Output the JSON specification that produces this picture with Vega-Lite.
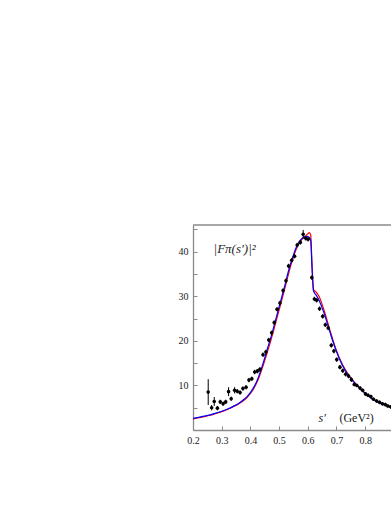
{
  "$schema": "https://vega.github.io/schema/vega-lite/v6.json",
  "autosize": {"type": "none"},
  "padding": {"left": 193, "top": 225, "right": 0, "bottom": 76},
  "width": 198,
  "height": 205,
  "background": "white",
  "config": {
    "view": {"stroke": null},
    "font": "Liberation Serif",
    "axis": {
      "grid": false,
      "domainColor": "#8a8a8a",
      "domainWidth": 1.3,
      "tickColor": "#8a8a8a",
      "tickWidth": 1,
      "labelFont": "Liberation Serif",
      "labelFontSize": 10,
      "labelColor": "#222",
      "labelOverlap": false,
      "title": null
    }
  },
  "datasets": {
    "pts": [
      {"x": 0.253, "y": 8.5, "lo": 5.6, "hi": 11.4},
      {"x": 0.265, "y": 5.0, "lo": 4.4, "hi": 5.6},
      {"x": 0.274, "y": 6.4, "lo": 5.4, "hi": 7.4},
      {"x": 0.285, "y": 4.9, "lo": 4.4, "hi": 5.4},
      {"x": 0.295, "y": 6.3, "lo": 5.8, "hi": 6.8},
      {"x": 0.305, "y": 5.9, "lo": 5.4, "hi": 6.4},
      {"x": 0.314, "y": 6.3, "lo": 5.8, "hi": 6.8},
      {"x": 0.324, "y": 8.6, "lo": 7.6, "hi": 9.6},
      {"x": 0.333, "y": 7.0, "lo": 6.5, "hi": 7.5},
      {"x": 0.345, "y": 8.9, "lo": 8.2, "hi": 9.6},
      {"x": 0.354, "y": 8.7, "lo": 8.2, "hi": 9.2},
      {"x": 0.364, "y": 8.4, "lo": 7.9, "hi": 8.9},
      {"x": 0.374, "y": 9.3, "lo": 8.8, "hi": 9.8},
      {"x": 0.385, "y": 9.6, "lo": 9.1, "hi": 10.1},
      {"x": 0.395, "y": 11.2, "lo": 10.7, "hi": 11.7},
      {"x": 0.405, "y": 11.5, "lo": 11.0, "hi": 12.0},
      {"x": 0.415, "y": 13.0, "lo": 12.5, "hi": 13.5},
      {"x": 0.424, "y": 13.2, "lo": 12.7, "hi": 13.7},
      {"x": 0.433, "y": 13.6, "lo": 13.1, "hi": 14.1},
      {"x": 0.444, "y": 16.9, "lo": 16.4, "hi": 17.4},
      {"x": 0.454, "y": 17.5, "lo": 17.0, "hi": 18.0},
      {"x": 0.464, "y": 20.2, "lo": 19.7, "hi": 20.7},
      {"x": 0.474, "y": 21.8, "lo": 21.3, "hi": 22.3},
      {"x": 0.483, "y": 24.1, "lo": 23.6, "hi": 24.6},
      {"x": 0.493, "y": 27.1, "lo": 26.6, "hi": 27.6},
      {"x": 0.503, "y": 28.5, "lo": 28.0, "hi": 29.0},
      {"x": 0.514, "y": 31.3, "lo": 30.8, "hi": 31.8},
      {"x": 0.524, "y": 33.5, "lo": 33.0, "hi": 34.0},
      {"x": 0.533, "y": 36.8, "lo": 36.3, "hi": 37.3},
      {"x": 0.544, "y": 38.1, "lo": 37.6, "hi": 38.6},
      {"x": 0.554, "y": 39.0, "lo": 38.5, "hi": 39.5},
      {"x": 0.563, "y": 41.5, "lo": 41.0, "hi": 42.0},
      {"x": 0.574, "y": 42.1, "lo": 41.6, "hi": 42.6},
      {"x": 0.584, "y": 43.9, "lo": 43.0, "hi": 44.9},
      {"x": 0.593, "y": 43.0, "lo": 42.5, "hi": 43.5},
      {"x": 0.601, "y": 42.8, "lo": 42.3, "hi": 43.3},
      {"x": 0.614, "y": 34.2, "lo": 33.7, "hi": 34.7},
      {"x": 0.623, "y": 29.4, "lo": 28.9, "hi": 29.9},
      {"x": 0.631, "y": 29.1, "lo": 28.6, "hi": 29.6},
      {"x": 0.641, "y": 27.2, "lo": 26.7, "hi": 27.7},
      {"x": 0.652, "y": 25.5, "lo": 25.0, "hi": 26.0},
      {"x": 0.661, "y": 23.6, "lo": 23.1, "hi": 24.1},
      {"x": 0.671, "y": 22.9, "lo": 22.4, "hi": 23.4},
      {"x": 0.682, "y": 19.0, "lo": 18.5, "hi": 19.5},
      {"x": 0.691, "y": 17.7, "lo": 17.2, "hi": 18.2},
      {"x": 0.701, "y": 15.8, "lo": 15.3, "hi": 16.3},
      {"x": 0.712, "y": 14.1, "lo": 13.6, "hi": 14.6},
      {"x": 0.722, "y": 13.3, "lo": 12.8, "hi": 13.8},
      {"x": 0.732, "y": 12.5, "lo": 12.0, "hi": 13.0},
      {"x": 0.742, "y": 12.1, "lo": 11.6, "hi": 12.6},
      {"x": 0.752, "y": 11.3, "lo": 10.8, "hi": 11.8},
      {"x": 0.762, "y": 10.2, "lo": 9.8, "hi": 10.6},
      {"x": 0.771, "y": 10.0, "lo": 9.6, "hi": 10.4},
      {"x": 0.782, "y": 9.4, "lo": 9.0, "hi": 9.8},
      {"x": 0.791, "y": 8.9, "lo": 8.5, "hi": 9.3},
      {"x": 0.801, "y": 8.1, "lo": 7.7, "hi": 8.5},
      {"x": 0.81, "y": 7.8, "lo": 7.4, "hi": 8.2},
      {"x": 0.82, "y": 7.5, "lo": 7.1, "hi": 7.9},
      {"x": 0.829, "y": 6.9, "lo": 6.5, "hi": 7.3},
      {"x": 0.84, "y": 6.5, "lo": 6.1, "hi": 6.9},
      {"x": 0.85, "y": 6.2, "lo": 5.8, "hi": 6.6},
      {"x": 0.86, "y": 5.9, "lo": 5.5, "hi": 6.3},
      {"x": 0.87, "y": 5.7, "lo": 5.3, "hi": 6.1},
      {"x": 0.879, "y": 5.4, "lo": 5.0, "hi": 5.8},
      {"x": 0.889, "y": 5.2, "lo": 4.8, "hi": 5.6}
    ],
    "red": [
      {"x": 0.2, "y": 2.5}, {"x": 0.22, "y": 2.75}, {"x": 0.24, "y": 3.0}, {"x": 0.26, "y": 3.3},
      {"x": 0.28, "y": 3.7}, {"x": 0.3, "y": 4.1}, {"x": 0.32, "y": 4.6}, {"x": 0.34, "y": 5.2},
      {"x": 0.36, "y": 5.9}, {"x": 0.38, "y": 6.8}, {"x": 0.39, "y": 7.4}, {"x": 0.4, "y": 8.2},
      {"x": 0.41, "y": 9.1}, {"x": 0.42, "y": 10.3}, {"x": 0.43, "y": 11.8}, {"x": 0.44, "y": 13.6},
      {"x": 0.45, "y": 15.6},
      {"x": 0.46, "y": 17.7}, {"x": 0.47, "y": 19.8}, {"x": 0.48, "y": 22.1}, {"x": 0.49, "y": 24.5},
      {"x": 0.5, "y": 26.9}, {"x": 0.51, "y": 29.3}, {"x": 0.52, "y": 31.8}, {"x": 0.53, "y": 34.3},
      {"x": 0.54, "y": 36.7}, {"x": 0.55, "y": 38.8}, {"x": 0.56, "y": 40.6}, {"x": 0.57, "y": 41.9},
      {"x": 0.58, "y": 42.8}, {"x": 0.59, "y": 43.4}, {"x": 0.6, "y": 44.0}, {"x": 0.605, "y": 44.3},
      {"x": 0.61, "y": 43.8}, {"x": 0.615, "y": 37.0}, {"x": 0.62, "y": 31.5}, {"x": 0.63, "y": 30.9},
      {"x": 0.64, "y": 29.9}, {"x": 0.65, "y": 28.2}, {"x": 0.66, "y": 26.2}, {"x": 0.67, "y": 24.0},
      {"x": 0.68, "y": 21.8}, {"x": 0.69, "y": 19.7}, {"x": 0.7, "y": 17.8}, {"x": 0.72, "y": 14.8},
      {"x": 0.74, "y": 12.6}, {"x": 0.76, "y": 10.9}, {"x": 0.78, "y": 9.5}, {"x": 0.8, "y": 8.3},
      {"x": 0.82, "y": 7.3}, {"x": 0.84, "y": 6.5}, {"x": 0.86, "y": 5.9}, {"x": 0.88, "y": 5.4},
      {"x": 0.9, "y": 5.0}
    ],
    "blue": [
      {"x": 0.2, "y": 2.6}, {"x": 0.22, "y": 2.85}, {"x": 0.24, "y": 3.1}, {"x": 0.26, "y": 3.4},
      {"x": 0.28, "y": 3.8}, {"x": 0.3, "y": 4.2}, {"x": 0.32, "y": 4.7}, {"x": 0.34, "y": 5.3},
      {"x": 0.36, "y": 6.0}, {"x": 0.38, "y": 7.0}, {"x": 0.39, "y": 7.6}, {"x": 0.4, "y": 8.4},
      {"x": 0.41, "y": 9.4}, {"x": 0.42, "y": 10.6}, {"x": 0.43, "y": 12.2}, {"x": 0.44, "y": 14.1},
      {"x": 0.45, "y": 16.2},
      {"x": 0.46, "y": 18.4}, {"x": 0.47, "y": 20.5}, {"x": 0.48, "y": 22.8}, {"x": 0.49, "y": 25.2},
      {"x": 0.5, "y": 27.6}, {"x": 0.51, "y": 30.0}, {"x": 0.52, "y": 32.4}, {"x": 0.53, "y": 35.0},
      {"x": 0.54, "y": 37.3}, {"x": 0.55, "y": 39.3}, {"x": 0.56, "y": 41.0}, {"x": 0.57, "y": 42.2},
      {"x": 0.58, "y": 43.0}, {"x": 0.59, "y": 43.4}, {"x": 0.6, "y": 43.4}, {"x": 0.605, "y": 43.2},
      {"x": 0.61, "y": 42.6}, {"x": 0.615, "y": 36.0}, {"x": 0.62, "y": 31.2}, {"x": 0.63, "y": 30.2},
      {"x": 0.64, "y": 29.0}, {"x": 0.65, "y": 27.4}, {"x": 0.66, "y": 25.6}, {"x": 0.67, "y": 23.5},
      {"x": 0.68, "y": 21.4}, {"x": 0.69, "y": 19.4}, {"x": 0.7, "y": 17.6}, {"x": 0.72, "y": 14.6},
      {"x": 0.74, "y": 12.4}, {"x": 0.76, "y": 10.8}, {"x": 0.78, "y": 9.4}, {"x": 0.8, "y": 8.2},
      {"x": 0.82, "y": 7.2}, {"x": 0.84, "y": 6.4}, {"x": 0.86, "y": 5.8}, {"x": 0.88, "y": 5.3},
      {"x": 0.9, "y": 4.9}
    ]
  },
  "encoding": {
    "x": {"type": "quantitative",
          "scale": {"domain": [0.2, 0.89], "nice": false, "zero": false},
          "axis": {"values": [0.2, 0.3, 0.4, 0.5, 0.6, 0.7, 0.8, 0.9], "format": ".1f",
                   "tickSize": -4, "labelPadding": 9, "labelOverlap": false, "labelBound": false, "labelFlush": false,
                   "labelFont": "Liberation Serif", "labelFontSize": 10}},
    "y": {"type": "quantitative",
          "scale": {"domain": [0, 46], "nice": false, "zero": true},
          "axis": {"values": [5, 10, 15, 20, 25, 30, 35, 40, 45],
                   "labelExpr": "datum.value % 10 == 0 ? datum.label : ''",
                   "tickSize": -4, "labelPadding": 9, "labelOverlap": false,
                   "labelFont": "Liberation Serif", "labelFontSize": 10}}
  },
  "layer": [
    {
      "data": {"name": "red"},
      "mark": {"type": "line", "color": "#ff0000", "strokeWidth": 1.2, "clip": true, "interpolate": "monotone"},
      "encoding": {
        "x": {"field": "x"},
        "y": {"field": "y"}
      }
    },
    {
      "data": {"values": [{}]},
      "mark": {"type": "rule", "color": "#8a8a8a", "strokeWidth": 1.3},
      "encoding": {"y": {"datum": 46}}
    },
    {
      "data": {"name": "blue"},
      "mark": {"type": "line", "color": "#0000ff", "strokeWidth": 1.2, "clip": true, "interpolate": "monotone"},
      "encoding": {
        "x": {"field": "x"},
        "y": {"field": "y"}
      }
    },
    {
      "data": {"name": "pts"},
      "mark": {"type": "rule", "color": "black", "strokeWidth": 1, "clip": true},
      "encoding": {
        "x": {"field": "x"},
        "y": {"field": "lo"},
        "y2": {"field": "hi"}
      }
    },
    {
      "data": {"name": "pts"},
      "mark": {"type": "circle", "color": "black", "opacity": 1, "size": 13, "clip": true},
      "encoding": {
        "x": {"field": "x"},
        "y": {"field": "y"}
      }
    },
    {
      "data": {"values": [{}]},
      "mark": {"type": "text", "text": "|Fπ(s′)|²", "font": "Liberation Serif", "fontStyle": "italic", "fontSize": 13, "color": "#222", "align": "center", "baseline": "middle"},
      "encoding": {
        "x": {"datum": 0.345},
        "y": {"datum": 40.6}
      }
    },
    {
      "data": {"values": [{}]},
      "mark": {"type": "text", "text": "s′", "font": "Liberation Serif", "fontStyle": "italic", "fontSize": 12, "color": "#222", "align": "center", "baseline": "middle"},
      "encoding": {
        "x": {"datum": 0.65},
        "y": {"datum": 2.8}
      }
    },
    {
      "data": {"values": [{}]},
      "mark": {"type": "text", "text": "(GeV²)", "font": "Liberation Serif", "fontSize": 12, "color": "#222", "align": "center", "baseline": "middle"},
      "encoding": {
        "x": {"datum": 0.77},
        "y": {"datum": 2.8}
      }
    }
  ]
}
